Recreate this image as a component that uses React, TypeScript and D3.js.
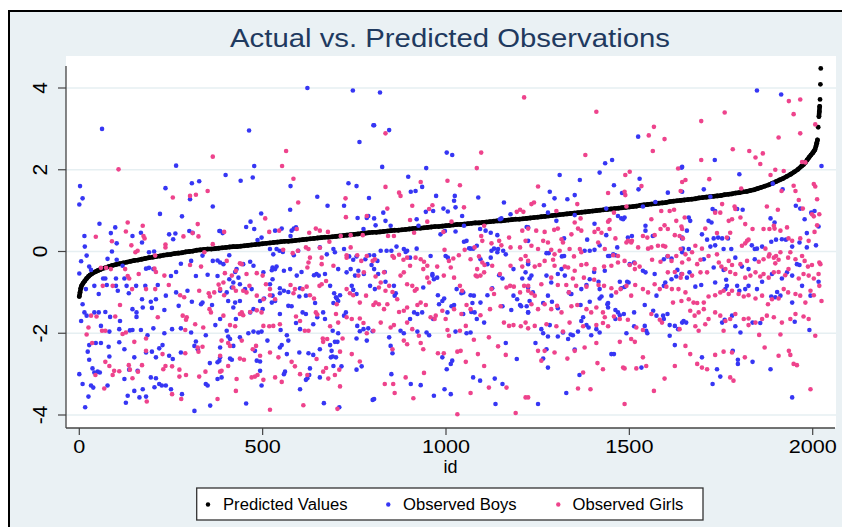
import React from 'react';
import * as d3 from 'd3';

const titleText = 'Actual vs. Predicted Observations';
const xLabel = 'id';
const xTicks = [0, 500, 1000, 1500, 2000];
const yTicks = [-4, -2, 0, 2, 4];
const legendLabels = ['Predicted Values', 'Observed Boys', 'Observed Girls'];

// [id, predicted value]
const predicted: [number, number][] = [
[0,-1.1],[2,-1.0],[4,-0.9],[6,-0.84],[10,-0.78],[15,-0.72],[20,-0.66],[25,-0.61],[30,-0.57],[35,-0.54],[40,-0.51],[45,-0.49],[50,-0.47],[55,-0.45],[60,-0.43],[70,-0.4],[80,-0.37],[90,-0.34],[100,-0.32],[110,-0.3],[120,-0.28],[130,-0.26],[140,-0.24],[150,-0.22],[160,-0.21],[170,-0.19],[180,-0.17],[190,-0.15],[200,-0.14],[210,-0.12],[220,-0.11],[230,-0.09],[240,-0.08],[250,-0.07],[260,-0.05],[270,-0.04],[280,-0.03],[290,-0.01],[300,0],[310,0.01],[320,0.03],[330,0.04],[340,0.05],[350,0.06],[360,0.06],[370,0.07],[380,0.08],
[390,0.09],[400,0.1],[410,0.11],[420,0.12],[430,0.12],[440,0.13],[450,0.14],[460,0.15],[470,0.16],[480,0.17],[490,0.18],[500,0.19],[510,0.2],[520,0.21],[530,0.22],[540,0.23],[550,0.24],[560,0.25],[570,0.25],[580,0.26],[590,0.27],[600,0.28],[610,0.29],[620,0.3],[630,0.31],[640,0.32],[650,0.33],[660,0.34],[670,0.35],[680,0.35],[690,0.36],[700,0.37],[710,0.38],[720,0.39],[730,0.4],[740,0.41],[750,0.42],[760,0.43],[770,0.44],[780,0.45],[790,0.46],[800,0.47],
[810,0.47],[820,0.48],[830,0.49],[840,0.5],[850,0.51],[860,0.52],[870,0.52],[880,0.53],[890,0.54],[900,0.55],[910,0.56],[920,0.57],[930,0.57],[940,0.58],[950,0.59],[960,0.6],[970,0.61],[980,0.61],[990,0.62],[1000,0.63],[1010,0.64],[1020,0.65],[1030,0.66],[1040,0.66],[1050,0.67],[1060,0.68],[1070,0.69],[1080,0.7],[1090,0.7],[1100,0.71],[1110,0.72],[1120,0.73],[1130,0.74],[1140,0.75],[1150,0.75],[1160,0.76],[1170,0.77],[1180,0.78],[1190,0.79],[1200,0.79],[1210,0.8],[1220,0.81],[1230,0.82],
[1240,0.83],[1250,0.84],[1260,0.85],[1270,0.86],[1280,0.87],[1290,0.88],[1300,0.89],[1310,0.9],[1320,0.91],[1330,0.92],[1340,0.93],[1350,0.94],[1360,0.95],[1370,0.96],[1380,0.97],[1390,0.98],[1400,0.99],[1410,1.0],[1420,1.01],[1430,1.02],[1440,1.03],[1450,1.04],[1460,1.05],[1470,1.06],[1480,1.07],[1490,1.08],[1500,1.09],[1510,1.1],[1520,1.11],[1530,1.13],[1540,1.14],[1550,1.15],[1560,1.16],[1570,1.17],[1580,1.18],[1590,1.19],[1600,1.2],[1610,1.22],[1620,1.23],[1630,1.24],[1640,1.25],[1650,1.26],
[1660,1.27],[1670,1.28],[1680,1.29],[1690,1.31],[1700,1.32],[1710,1.33],[1720,1.34],[1730,1.35],[1740,1.36],[1750,1.37],[1760,1.39],[1770,1.4],[1780,1.41],[1790,1.43],[1800,1.44],[1810,1.46],[1820,1.47],[1830,1.49],[1840,1.51],[1850,1.54],[1860,1.57],[1870,1.6],[1880,1.63],[1890,1.67],[1900,1.71],[1910,1.75],[1920,1.79],[1930,1.84],[1940,1.89],[1950,1.95],[1960,2.01],[1970,2.09],[1975,2.13],[1980,2.18],[1985,2.24],[1990,2.3],[1995,2.36],[2000,2.41],[2003,2.45],[2006,2.49],[2009,2.58],[2011,2.65],[2013,2.73],[2015,3.04],[2017,3.3],[2018,3.42],[2019,3.55],[2020,3.72],[2021,4.09],[2022,4.48]
];

// [id, observed value] for boys
const boys: [number, number][] = [
[62,3.0],[264,2.1],[2,1.6],[9,1.3],[0,1.15],[307,1.67],[327,1.72],[235,1.55],[302,1.28],[364,1.1],[280,0.86],[220,0.92],[55,0.68],[98,0.59],[86,0.45],[14,0.38],[15,0.12],[20,-0.1],[5,-0.24],[0,-0.54],[382,0.5],[300,0.5],[309,0.46],[245,0.42],[262,0.44],[256,0.3],[145,0.38],[171,0.22],[168,0.46],[102,0.2],[89,0],[204,0],[190,-0.02],[77,-0.18],[102,-0.2],[118,-0.35],[27,-0.37],[32,-0.45],[182,-0.42],[190,-0.4],[202,-0.43],[277,-0.3],[305,-0.23],[336,-0.1],[364,-0.23],[377,-0.22],[318,-0.6],[350,-0.57],[377,-0.6],[250,-0.6],[264,-0.5],[65,-0.66],[71,-0.66],[100,-0.66],[123,-0.66],[41,-0.84],[75,-0.82],[100,-0.84],[129,-0.84],[155,-0.84],[180,-0.84],[214,-0.82],[18,-0.92],[53,-1.04],[105,-0.96],[135,-1.02],[171,-1.17],[195,-1.23],[209,-1.17],[236,-1.08],[264,-1.0],[295,-0.96],[336,-1.25],[9,-1.29],[14,-1.49],[5,-1.7],[20,-1.57],[41,-1.49],[53,-1.49],[71,-1.48],[84,-1.6],[111,-1.7],[145,-1.41],[156,-1.49],[173,-1.37],[198,-1.38],[232,-1.43],[271,-1.33],[307,-1.23],[332,-1.29],[362,-1.31],[59,-1.82],[82,-1.96],[109,-1.9],[138,-1.93],[145,-1.92],[156,-1.6],[168,-1.92],[186,-2.05],[202,-1.88],[232,-2.0],[253,-1.9],[277,-1.88],[305,-1.98],[318,-2.2],[345,-2.05],[371,-1.8],[27,-2.29],[59,-2.24],[45,-2.24],[23,-2.45],[27,-2.65],[80,-2.33],[123,-2.39],[109,-2.22],[82,-2.57],[150,-2.59],[182,-2.47],[198,-2.45],[209,-2.59],[218,-2.37],[227,-2.29],[277,-2.47],[255,-2.63],[245,-2.55],[314,-2.31],[323,-2.39],[356,-2.73],[377,-2.71],[382,-2.67],[36,-2.86],[50,-2.94],[41,-2.96],[56,-2.96],[0,-3.0],[9,-3.24],[32,-3.28],[38,-3.33],[25,-3.55],[16,-3.81],[77,-3.28],[123,-3.12],[136,-2.89],[159,-2.92],[132,-3.53],[127,-3.7],[164,-3.57],[182,-3.55],[150,-3.41],[173,-3.37],[195,-3.08],[209,-3.1],[218,-3.24],[225,-3.28],[205,-3.32],[236,-3.28],[250,-3.37],[280,-3.49],[314,-3.9],[345,-3.24],[350,-3.28],[357,-3.77],[377,-3.12],[384,-2.59],
[622,4.0],[746,3.94],[802,3.09],[463,2.96],[764,2.68],[477,2.09],[399,1.87],[473,1.81],[440,1.73],[734,1.67],[756,1.6],[576,1.6],[649,1.34],[790,1.31],[677,1.12],[722,1.12],[575,1.02],[496,0.93],[467,0.73],[455,0.6],[477,0.55],[759,0.82],[784,0.82],[788,0.87],[552,0.56],[534,0.51],[585,0.56],[579,0.51],[591,0.59],[576,0.38],[497,0.34],[486,0.28],[775,0.55],[384,0.5],[391,0.45],[409,-0.09],[520,0.06],[529,-0.07],[538,0.06],[546,0.02],[597,0.02],[585,-0.09],[555,-0.01],[656,0.1],[675,-0.07],[693,0.06],[697,-0.02],[722,0.06],[736,-0.12],[747,-0.2],[756,-0.12],[780,-0.19],[791,-0.09],[384,-0.27],[393,-0.31],[429,-0.43],[425,-0.5],[447,-0.31],[466,-0.25],[475,-0.35],[502,-0.51],[527,-0.39],[525,-0.46],[534,-0.43],[538,-0.37],[558,-0.47],[575,-0.43],[593,-0.59],[606,-0.5],[640,-0.58],[647,-0.55],[653,-0.59],[670,-0.55],[706,-0.43],[729,-0.51],[740,-0.43],[752,-0.59],[761,-0.47],[776,-0.55],[804,-0.43],[797,-0.33],[409,-0.68],[434,-0.64],[420,-0.76],[470,-0.92],[452,-0.92],[438,-0.8],[520,-0.8],[527,-0.68],[547,-0.9],[547,-1.02],[558,-0.96],[570,-0.99],[602,-0.9],[618,-1.08],[600,-1.1],[684,-0.84],[695,-1.02],[702,-1.15],[711,-1.07],[743,-0.84],[747,-0.94],[756,-1.04],[793,-0.84],[806,-0.92],[384,-0.96],[402,-1.0],[416,-0.88],[406,-1.21],[425,-1.25],[438,-1.21],[420,-1.37],[427,-1.65],[443,-1.53],[466,-1.49],[475,-1.41],[493,-1.21],[504,-1.15],[500,-1.41],[525,-1.25],[534,-1.21],[527,-1.08],[547,-1.53],[570,-1.33],[579,-1.34],[609,-1.49],[618,-1.53],[643,-1.26],[649,-1.61],[665,-1.49],[670,-1.65],[693,-1.26],[700,-1.12],[706,-1.21],[722,-1.57],[727,-1.49],[758,-1.82],[765,-1.95],[775,-1.9],[788,-1.88],[800,-1.95],[384,-1.65],[402,-1.94],[406,-2.08],[411,-2.14],[438,-2.1],[461,-2.0],[475,-1.96],[488,-1.98],[497,-1.96],[549,-1.92],[566,-2.05],[570,-2.18],[591,-1.75],[602,-1.9],[638,-1.78],[691,-1.94],[706,-2.0],[697,-2.21],[784,-2.18],[756,-2.13],[479,-2.43],[484,-2.67],[493,-2.69],[513,-2.18],[547,-2.35],[552,-2.29],[566,-2.51],[600,-2.47],[625,-2.49],[638,-2.53],[656,-2.39],[684,-2.29],[688,-2.43],[691,-2.57],[704,-2.21],[384,-2.35],[420,-2.31],[388,-3.08],[411,-2.62],[416,-2.65],[493,-2.92],[497,-3.28],[561,-2.94],[558,-3.0],[629,-2.86],[627,-3.02],[622,-3.1],[618,-3.14],[656,-3.08],[693,-2.8],[700,-2.59],[715,-2.81],[686,-2.59],[756,-2.89],[770,-2.81],[602,-3.37],[455,-3.72],[667,-3.71],[709,-3.81],[800,-3.63],
[820,3.89],[804,3.09],[845,2.97],[1002,2.42],[1017,2.36],[826,2.07],[946,2.04],[897,1.83],[904,1.46],[917,1.48],[935,1.58],[973,1.36],[1088,1.32],[1158,1.2],[1024,1.36],[1022,1.24],[1026,1.08],[945,0.97],[965,0.99],[993,1.05],[1005,0.98],[1044,0.87],[804,0.81],[808,0.64],[829,0.95],[835,0.75],[849,0.63],[920,0.79],[925,0.63],[985,0.42],[997,0.5],[1026,0.49],[1049,0.63],[1093,0.55],[1108,0.51],[1122,0.46],[1140,0.4],[1147,0.79],[1151,0.81],[1176,0.91],[1220,0.6],[822,0.02],[838,0.02],[851,0.02],[865,0.12],[885,0.06],[894,0.02],[920,0.07],[1049,0.24],[1063,0.08],[1074,0.07],[1084,0.14],[1124,0.02],[1131,0.07],[1140,-0.02],[1156,0.02],[1224,-0.27],[804,-0.09],[813,-0.23],[815,-0.55],[833,-0.5],[890,-0.01],[902,-0.15],[958,-0.11],[963,-0.55],[976,-0.64],[999,-0.11],[1005,-0.15],[1056,0.26],[1067,0.07],[1094,-0.19],[1113,-0.31],[1122,-0.15],[1142,0.06],[1163,-0.07],[1184,-0.43],[1217,-0.51],[1208,-0.66],[835,-0.74],[858,-0.84],[863,-1.02],[860,-1.08],[938,-0.88],[963,-0.59],[967,-0.68],[978,-1.07],[981,-1.29],[990,-1.21],[995,-1.15],[1022,-1.31],[1029,-0.92],[1042,-1.02],[1047,-1.0],[1067,-1.07],[1076,-1.08],[1072,-1.26],[1094,-1.25],[1113,-1.07],[1126,-0.9],[1145,-0.58],[1154,-0.66],[1184,-1.08],[1194,-1.17],[1202,-1.31],[1205,-1.34],[1224,-1.49],[1220,-1.34],[902,-1.65],[913,-1.49],[922,-1.53],[935,-1.49],[965,-1.65],[1004,-1.49],[1015,-1.34],[1047,-1.53],[1069,-1.48],[1078,-1.49],[1084,-1.65],[1104,-1.74],[1154,-1.34],[1178,-1.43],[845,-2.1],[849,-2.31],[854,-2.49],[876,-1.94],[885,-2.0],[922,-1.96],[947,-1.98],[954,-2.05],[1026,-1.96],[1056,-2.0],[1067,-1.98],[1163,-2.24],[1193,-2.63],[990,-2.59],[1002,-2.88],[1017,-2.67],[1013,-2.75],[1074,-3.08],[1093,-3.16],[1133,-3.11],[1154,-3.24],[851,-3.0],[904,-3.24],[931,-3.27],[967,-3.53],[996,-3.37],[1013,-3.49],[1135,-3.73],[804,-3.61],
[1524,2.81],[1434,2.16],[1453,2.24],[1419,1.93],[1310,1.87],[1365,1.75],[1528,1.78],[1458,1.62],[1480,1.43],[1525,1.52],[1642,2.05],[1283,1.46],[1296,1.3],[1267,1.13],[1331,1.28],[1351,1.38],[1605,1.44],[1571,1.21],[1537,1.1],[1437,1.05],[1278,0.95],[1301,0.75],[1351,0.89],[1405,0.68],[1437,0.4],[1469,0.87],[1483,0.79],[1487,0.83],[1478,0.81],[1544,0.63],[1544,0.51],[1564,0.38],[1496,0.34],[1507,0.38],[1644,0.34],[1224,0.59],[1224,0.26],[1322,0.32],[1385,0.29],[1467,0.1],[1274,-0.04],[1280,-0.04],[1316,-0.12],[1322,-0.11],[1378,0.02],[1392,0.02],[1405,0.04],[1419,0.15],[1442,-0.11],[1462,-0.09],[1456,-0.07],[1501,-0.31],[1513,-0.27],[1537,-0.47],[1544,-0.51],[1569,-0.55],[1594,-0.19],[1604,-0.12],[1615,-0.17],[1631,-0.45],[1642,-0.55],[1646,0.07],[1224,-0.31],[1233,-0.59],[1228,-0.66],[1224,-0.88],[1274,-0.59],[1287,-0.76],[1305,-0.55],[1315,-0.43],[1324,-0.59],[1342,-1.04],[1369,-0.92],[1383,-0.82],[1392,-0.68],[1404,-0.5],[1416,-0.74],[1419,-0.92],[1433,-0.47],[1446,-0.11],[1451,-1.08],[1474,-0.74],[1494,-0.74],[1498,-0.76],[1478,-0.9],[1487,-0.87],[1574,-1.08],[1594,-0.84],[1598,-0.76],[1615,-0.68],[1628,-0.61],[1228,-1.21],[1237,-1.0],[1265,-1.26],[1278,-1.08],[1289,-1.23],[1305,-1.39],[1340,-1.04],[1335,-1.0],[1367,-1.31],[1392,-1.23],[1419,-1.15],[1424,-1.1],[1442,-1.26],[1462,-1.43],[1469,-1.49],[1485,-1.53],[1513,-1.49],[1542,-1.31],[1565,-1.45],[1574,-1.57],[1594,-1.65],[1604,-1.53],[1610,-1.8],[1224,-1.49],[1260,-1.9],[1265,-2.0],[1283,-1.8],[1319,-1.98],[1346,-2.05],[1360,-1.96],[1369,-1.7],[1374,-1.61],[1383,-1.8],[1389,-1.86],[1396,-2.05],[1410,-1.9],[1419,-1.98],[1440,-1.29],[1442,-1.37],[1462,-1.65],[1474,-1.56],[1492,-2.0],[1513,-1.83],[1542,-1.82],[1546,-1.94],[1549,-2.0],[1592,-1.57],[1610,-2.06],[1624,-1.82],[1633,-1.9],[1244,-2.24],[1274,-2.39],[1278,-2.08],[1265,-2.62],[1278,-2.84],[1305,-2.08],[1333,-2.14],[1340,-2.03],[1351,-2.4],[1451,-2.51],[1458,-2.51],[1533,-2.84],[1364,-3.02],[1328,-3.46],[1624,-2.29],[1644,-1.74],[1251,-3.73],
[1848,3.94],[1914,3.84],[1733,2.24],[2024,2.09],[1800,1.89],[1891,1.66],[1918,1.52],[1703,1.52],[1721,1.34],[1644,2.07],[1644,1.46],[1727,1.04],[1734,0.99],[1716,0.75],[1724,0.71],[1794,1.04],[1809,1.02],[1662,0.83],[1666,0.75],[1657,0.51],[1885,0.81],[1896,0.71],[1954,1.12],[1966,1.05],[1996,0.95],[2005,0.99],[1978,0.79],[1984,0.45],[2009,0.15],[2016,0.61],[1698,0.42],[1712,0.29],[1730,0.32],[1742,0.34],[1753,0.32],[1769,0.32],[1721,0.12],[1734,0.15],[1757,0.06],[1778,0.06],[1834,0.15],[1842,0.06],[1862,0.12],[1848,0.07],[1887,0.24],[1900,0.29],[1916,0.3],[1927,0.29],[1964,0.22],[1984,0.1],[1944,0.12],[1644,0.32],[1662,0.06],[1644,-0.02],[1703,-0.19],[1730,-0.39],[1757,-0.45],[1789,-0.15],[1807,-0.37],[1825,-0.43],[1842,-0.19],[1889,-0.55],[1916,-0.66],[1930,-0.51],[1944,-0.59],[1957,-0.31],[1964,-0.33],[2016,-0.74],[1657,-0.64],[1664,-0.51],[1680,-0.86],[1696,-0.82],[1734,-0.76],[1764,-0.69],[1766,-0.84],[1762,-0.92],[1794,-0.84],[1800,-0.96],[1816,-0.92],[1825,-0.84],[1848,-0.92],[1862,-0.74],[1887,-1.1],[1898,-1.12],[1903,-0.99],[1912,-1.08],[1944,-1.25],[1951,-1.72],[1971,-0.84],[1994,-1.08],[1648,-1.7],[1655,-1.74],[1753,-1.74],[1760,-1.67],[1780,-1.57],[1789,-1.83],[1803,-1.98],[1836,-1.74],[1857,-1.75],[1991,-1.92],[1698,-2.59],[1739,-2.88],[1748,-3.06],[1782,-2.43],[1796,-2.65],[1796,-2.75],[1836,-2.7],[1885,-2.88],[1727,-3.24],[1944,-3.57]
];

// [id, observed value] for girls
const girls: [number, number][] = [
[364,2.32],[107,2.01],[255,1.32],[302,1.36],[318,1.39],[350,1.48],[45,0.36],[132,0.71],[127,0.49],[173,0.63],[175,0.38],[178,0.32],[89,0.25],[142,0.15],[159,0.02],[153,-0.02],[284,0.37],[309,0.45],[325,0.37],[323,0.67],[235,0.17],[235,0.1],[207,-0.1],[302,-0.33],[332,-0.37],[341,-0.02],[364,0.18],[59,-0.4],[73,-0.4],[86,-0.43],[125,-0.43],[132,-0.6],[136,-0.66],[162,-0.55],[209,-0.5],[205,-0.42],[232,-0.59],[244,-0.82],[380,-0.81],[368,-1.0],[356,-1.1],[64,-0.84],[91,-0.84],[144,-0.92],[182,-0.92],[207,-0.92],[275,-1.07],[286,-1.12],[327,-0.96],[353,-1.02],[111,-1.31],[98,-1.59],[32,-1.57],[47,-1.59],[359,-1.49],[355,-1.41],[282,-1.57],[293,-1.61],[291,-1.67],[214,-1.61],[316,-1.78],[338,-1.86],[25,-1.86],[20,-2.03],[62,-1.94],[71,-1.94],[118,-2.02],[127,-1.98],[150,-2.21],[182,-2.13],[289,-1.92],[323,-2.35],[336,-2.33],[325,-2.45],[35,-2.24],[182,-2.43],[227,-2.51],[235,-2.8],[253,-2.81],[229,-2.88],[273,-2.89],[289,-2.49],[135,-2.78],[138,-2.89],[145,-3.1],[171,-2.78],[160,-2.94],[95,-2.92],[109,-2.93],[91,-3.02],[71,-2.7],[82,-2.8],[44,-3.02],[68,-3.35],[291,-3.02],[273,-3.06],[327,-3.06],[344,-2.94],[253,-3.49],[278,-3.61],[184,-3.67],[377,-3.61],[384,-2.94],
[564,2.46],[553,2.09],[584,1.78],[597,1.2],[726,1.3],[727,0.84],[784,0.87],[507,0.81],[395,0.48],[518,0.48],[545,0.51],[593,0.55],[627,0.46],[645,0.56],[656,0.51],[678,0.48],[713,0.38],[740,0.4],[773,0.4],[556,0.04],[582,-0.04],[596,0.02],[618,0.1],[625,0.06],[656,0.09],[682,0.24],[740,0.1],[729,-0.09],[784,-0.11],[800,-0.23],[806,-0.19],[402,-0.23],[438,-0.29],[443,-0.31],[629,-0.15],[625,-0.27],[622,-0.39],[661,-0.15],[661,-0.31],[693,-0.35],[729,-0.15],[758,-0.09],[769,-0.23],[776,-0.51],[761,-0.59],[397,-0.53],[416,-0.59],[427,-0.47],[456,-0.55],[484,-0.53],[500,-0.59],[464,-0.84],[509,-0.8],[520,-0.92],[393,-0.76],[384,-0.92],[395,-1.07],[420,-0.88],[427,-0.96],[447,-0.96],[456,-1.0],[484,-1.08],[502,-1.17],[520,-1.07],[534,-1.17],[576,-0.82],[584,-1.02],[588,-0.92],[609,-0.92],[620,-0.86],[629,-1.07],[640,-1.15],[655,-0.84],[661,-0.8],[673,-0.72],[702,-1.29],[729,-0.92],[738,-1.02],[747,-1.07],[765,-1.25],[782,-1.08],[802,-1.31],[393,-1.57],[411,-1.8],[425,-1.83],[438,-1.53],[447,-1.56],[443,-1.49],[466,-1.48],[484,-1.44],[497,-1.49],[502,-1.82],[518,-1.83],[529,-1.82],[547,-1.78],[591,-1.59],[602,-1.7],[615,-1.94],[625,-1.94],[645,-1.49],[649,-1.54],[684,-1.83],[700,-1.53],[706,-1.74],[729,-1.61],[743,-1.65],[765,-1.64],[775,-1.75],[784,-2.0],[802,-1.94],[388,-2.18],[406,-2.24],[411,-2.31],[443,-2.18],[482,-2.31],[473,-2.39],[493,-2.55],[520,-2.47],[543,-2.59],[664,-2.13],[676,-2.14],[665,-2.21],[711,-2.45],[718,-2.13],[743,-2.51],[765,-2.69],[384,-2.55],[388,-2.92],[406,-2.8],[438,-2.62],[449,-2.65],[470,-3.08],[479,-3.06],[486,-3.02],[502,-3.14],[534,-3.08],[552,-3.19],[579,-2.7],[588,-2.81],[602,-3.0],[622,-3.02],[647,-2.63],[673,-2.85],[679,-3.11],[697,-3.02],[665,-2.94],[709,-2.89],[711,-3.3],[429,-3.12],[427,-3.41],[520,-3.87],[611,-3.76],[704,-3.85],
[1213,3.77],[835,2.89],[1096,2.42],[1084,2.04],[835,1.58],[931,1.7],[872,1.44],[876,1.36],[1004,1.73],[1038,1.62],[908,1.12],[963,1.13],[1049,1.08],[840,1.05],[902,0.77],[913,0.46],[954,1.04],[949,0.73],[1015,0.73],[993,0.48],[842,0.38],[858,0.38],[1193,0.97],[1202,1.02],[1211,0.97],[1208,0.51],[1217,0.26],[1104,0.63],[1096,0.38],[1099,0.26],[1078,0.1],[1124,0.2],[1145,0.26],[1151,0.15],[1172,0.34],[1176,0.1],[1202,0.1],[1217,-0.11],[996,0.04],[1008,-0.23],[1020,-0.17],[1035,-0.09],[1051,0.04],[1067,-0.19],[1090,-0.12],[1099,-0.27],[1105,-0.33],[1085,-0.43],[1081,-0.59],[1126,-0.35],[1147,-0.55],[1176,-0.35],[1204,-0.19],[1208,-0.37],[854,-0.11],[858,-0.15],[872,-0.08],[884,-0.2],[894,-0.15],[917,-0.15],[931,-0.19],[940,-0.25],[949,-0.35],[938,-0.43],[902,-0.35],[885,-0.51],[876,-0.59],[831,-0.51],[808,-0.61],[822,-0.76],[817,-0.88],[835,-0.96],[845,-0.84],[854,-0.99],[894,-0.8],[908,-0.84],[915,-0.96],[920,-0.92],[949,-0.64],[954,-0.76],[976,-0.37],[994,-0.59],[1013,-0.39],[1022,-0.64],[1038,-0.84],[1044,-0.96],[1085,-0.61],[1094,-0.59],[1104,-0.51],[1124,-0.92],[1131,-1.04],[1165,-0.88],[1175,-0.84],[1185,-0.86],[1202,-1.0],[1213,-0.84],[1224,-0.96],[808,-1.25],[817,-1.29],[831,-1.41],[840,-1.29],[867,-1.17],[872,-1.48],[885,-1.45],[894,-1.37],[922,-1.31],[931,-1.25],[945,-1.31],[958,-1.61],[969,-1.65],[972,-1.57],[990,-1.45],[999,-1.65],[1022,-1.41],[1042,-1.53],[1056,-1.31],[1067,-1.41],[1094,-1.56],[1120,-1.41],[1149,-1.34],[1158,-1.74],[1172,-1.82],[1184,-1.8],[1204,-1.83],[1217,-1.74],[1224,-1.88],[822,-1.74],[849,-1.86],[858,-1.8],[894,-1.74],[908,-1.9],[926,-2.06],[1004,-1.92],[1008,-2.06],[1038,-1.94],[1054,-1.82],[1076,-2.16],[1117,-2.1],[1142,-2.32],[1163,-2.53],[854,-2.39],[885,-2.18],[894,-2.27],[931,-2.24],[938,-2.39],[978,-2.49],[994,-2.49],[1031,-2.45],[1040,-2.43],[1054,-2.7],[1087,-2.51],[1104,-2.8],[940,-2.97],[890,-3.08],[833,-3.24],[856,-3.24],[860,-3.46],[911,-3.59],[1067,-3.46],[1117,-3.33],[1165,-3.33],[1031,-3.98],[1190,-3.95],[1217,-3.57],
[1410,3.42],[1567,3.05],[1553,2.84],[1596,2.75],[1564,2.46],[1380,2.36],[1489,1.87],[1501,1.95],[1533,1.6],[1442,1.43],[1633,2.03],[1640,1.48],[1644,1.7],[1251,1.59],[1233,1.16],[1240,1.2],[1358,1.16],[1487,1.46],[1489,1.38],[1301,0.99],[1351,0.71],[1367,0.81],[1442,0.73],[1446,0.77],[1492,1.1],[1458,0.95],[1560,0.79],[1587,0.99],[1610,0.99],[1622,1.02],[1628,0.75],[1642,0.61],[1224,0.56],[1246,0.51],[1269,0.48],[1295,0.53],[1305,0.56],[1315,0.3],[1342,0.42],[1360,0.56],[1369,0.51],[1405,0.48],[1415,0.55],[1424,0.46],[1446,0.55],[1462,0.32],[1496,0.26],[1507,0.26],[1537,0.38],[1549,0.34],[1569,0.4],[1585,0.55],[1596,0.64],[1605,0.55],[1624,0.4],[1637,0.38],[1233,0.14],[1251,0.06],[1265,0.26],[1278,0.22],[1287,0.04],[1296,-0.07],[1310,0.02],[1319,0.22],[1337,0.06],[1349,-0.12],[1365,0.06],[1369,-0.02],[1415,0.22],[1433,0.06],[1456,-0.09],[1469,-0.11],[1492,0.22],[1505,0.22],[1524,0.1],[1551,0.07],[1560,0.1],[1578,0.14],[1592,0.14],[1598,0.12],[1605,-0.11],[1615,-0.23],[1628,-0.11],[1640,0.06],[1224,-0.23],[1242,-0.37],[1255,-0.33],[1269,-0.23],[1292,-0.2],[1296,-0.35],[1324,-0.37],[1333,-0.39],[1351,-0.47],[1369,-0.33],[1383,-0.31],[1405,-0.43],[1431,-0.37],[1451,-0.35],[1469,-0.27],[1487,-0.23],[1501,-0.33],[1515,-0.29],[1515,-0.43],[1528,-0.37],[1562,-0.2],[1585,-0.25],[1605,-0.51],[1624,-0.5],[1640,-0.64],[1224,-0.84],[1233,-1.02],[1242,-1.08],[1260,-0.8],[1287,-0.64],[1305,-0.82],[1328,-0.82],[1335,-1.0],[1346,-0.66],[1355,-0.84],[1376,-0.64],[1383,-0.86],[1404,-0.69],[1416,-0.82],[1431,-0.84],[1451,-0.9],[1464,-1.0],[1476,-0.92],[1492,-0.84],[1505,-1.08],[1516,-0.82],[1537,-0.92],[1551,-1.0],[1569,-0.8],[1583,-0.92],[1601,-0.86],[1616,-0.92],[1634,-0.92],[1642,-1.21],[1619,-1.25],[1233,-1.29],[1251,-1.41],[1269,-1.29],[1287,-1.41],[1303,-1.33],[1315,-1.49],[1342,-1.34],[1358,-1.31],[1383,-1.41],[1396,-1.49],[1410,-1.37],[1428,-1.49],[1433,-1.61],[1458,-1.59],[1474,-1.65],[1496,-1.67],[1519,-1.86],[1537,-1.92],[1560,-1.53],[1583,-1.67],[1589,-1.74],[1242,-1.82],[1274,-1.78],[1301,-1.83],[1319,-1.96],[1337,-1.74],[1374,-1.83],[1410,-1.8],[1428,-1.75],[1442,-1.83],[1474,-2.21],[1505,-2.14],[1515,-2.21],[1637,-1.9],[1251,-2.43],[1269,-2.43],[1296,-2.47],[1331,-2.62],[1351,-2.43],[1410,-2.24],[1378,-2.35],[1260,-2.67],[1428,-2.88],[1413,-2.73],[1483,-2.84],[1487,-2.86],[1519,-2.86],[1546,-2.8],[1537,-2.59],[1624,-2.8],[1596,-3.11],[1224,-3.57],[1374,-2.96],[1394,-3.37],[1360,-3.35],[1487,-3.73],[1567,-3.41],
[1966,3.72],[1935,3.68],[1760,3.4],[1696,3.19],[1948,3.36],[1966,2.89],[1907,2.79],[1782,2.5],[1827,2.46],[1864,2.4],[1844,2.3],[1857,2.14],[1696,2.24],[2007,3.11],[1653,1.75],[1718,1.77],[1805,1.54],[1885,1.87],[1898,2.0],[1921,1.97],[1971,2.19],[1980,2.18],[1915,1.48],[1948,1.61],[2003,1.65],[2007,1.59],[2012,1.28],[1953,1.48],[1962,1.26],[1973,1.05],[1998,0.91],[2003,0.86],[2012,0.64],[2005,0.48],[2018,0.91],[1734,0.95],[1748,0.95],[1753,1.16],[1787,1.1],[1789,1.04],[1803,0.83],[1780,0.79],[1771,0.75],[1651,0.83],[1644,0.55],[1646,0.32],[1875,1.1],[1905,1.02],[1894,0.63],[1896,0.56],[1930,0.59],[1912,0.51],[1816,0.67],[1836,0.55],[1866,0.55],[1882,0.55],[1707,0.56],[1739,0.45],[1775,0.46],[1766,0.34],[1934,0.32],[1944,0.26],[1966,0.32],[1989,0.26],[1680,0.14],[1698,0.07],[1653,-0.07],[1671,-0.02],[1739,-0.07],[1807,0.14],[1816,0.2],[1821,0.26],[1825,0.29],[1871,0.07],[1882,-0.07],[1894,-0.15],[1900,-0.11],[1912,-0.02],[1933,-0.15],[1939,-0.02],[1953,-0.19],[1971,-0.11],[1978,-0.23],[1987,-0.37],[1998,-0.33],[2018,-0.27],[1644,-0.27],[1662,-0.19],[1685,-0.31],[1694,-0.2],[1716,-0.11],[1744,-0.27],[1771,-0.23],[1780,-0.33],[1803,-0.31],[1821,-0.23],[1853,-0.25],[1866,-0.19],[1880,-0.12],[1898,-0.29],[1907,-0.2],[1644,-0.55],[1671,-0.59],[1694,-0.51],[1712,-0.51],[1751,-0.37],[1762,-0.43],[1775,-0.5],[1789,-0.55],[1816,-0.64],[1830,-0.59],[1844,-0.51],[1857,-0.61],[1866,-0.55],[1880,-0.64],[1894,-0.51],[1907,-0.5],[1925,-0.58],[1934,-0.43],[1962,-0.66],[1975,-0.55],[1989,-0.59],[2003,-0.66],[2016,-0.55],[2021,-0.31],[1653,-1.0],[1662,-1.17],[1675,-1.25],[1685,-1.26],[1703,-1.25],[1716,-1.1],[1734,-1.07],[1748,-1.0],[1757,-0.96],[1771,-1.04],[1780,-0.96],[1798,-1.04],[1812,-1.1],[1825,-1.07],[1844,-1.15],[1862,-1.08],[1878,-1.29],[1889,-1.17],[1907,-1.15],[1921,-0.92],[1933,-1.0],[1953,-1.04],[1966,-1.08],[1980,-1.25],[1994,-0.96],[2003,-1.07],[2018,-0.84],[2024,-1.21],[1666,-1.45],[1678,-1.57],[1689,-1.49],[1703,-1.41],[1716,-1.65],[1734,-1.49],[1748,-1.57],[1762,-1.7],[1775,-1.65],[1789,-1.53],[1812,-1.65],[1825,-1.64],[1844,-1.74],[1862,-1.65],[1875,-1.57],[1894,-1.61],[1916,-1.74],[1939,-1.65],[1953,-1.53],[1975,-1.59],[1989,-1.65],[1680,-1.83],[1689,-1.94],[1707,-1.78],[1757,-1.94],[1825,-1.8],[1912,-2.03],[2007,-2.06],[1653,-2.31],[1666,-2.51],[1685,-2.75],[1698,-2.84],[1712,-2.88],[1734,-2.53],[1757,-2.45],[1780,-2.47],[1815,-2.59],[1854,-2.04],[1869,-2.35],[1907,-2.55],[1935,-2.43],[1939,-2.53],[1948,-2.75],[1957,-2.78],[1775,-3.08],[1784,-3.16],[1994,-3.37]
];

const FONT = '"Liberation Sans", Arial, Helvetica, sans-serif';
const W = 842;
const H = 527;
const plot = { left: 66, right: 836, top: 56, bottom: 428 };
const COLORS = { pred: '#000000', boys: '#3636F4', girls: '#EE438C', bg: '#EAF1F4', grid: '#E6EFF2', title: '#1F3A5F' };

export default function App() {
  const x = d3.scaleLinear().domain([0, 2000]).range([79.3, 812.7]);
  const y = d3.scaleLinear().domain([-4, 4]).range([415, 88]);

  // contiguous runs of predicted dots (dots that touch each other)
  const runs: [number, number][][] = [];
  let cur: [number, number][] = [];
  predicted.forEach((d, i) => {
    if (i > 0) {
      const p = predicted[i - 1];
      const dist = Math.hypot(x(d[0]) - x(p[0]), y(d[1]) - y(p[1]));
      if (dist > 6) { runs.push(cur); cur = []; }
    }
    cur.push(d);
  });
  runs.push(cur);
  const lineGen = d3.line<[number, number]>().x((d) => x(d[0])).y((d) => y(d[1]));

  const legendItems = [
    { label: legendLabels[0], color: COLORS.pred, dotX: 208, textX: 223 },
    { label: legendLabels[1], color: COLORS.boys, dotX: 388.3, textX: 403 },
    { label: legendLabels[2], color: COLORS.girls, dotX: 558.3, textX: 572.5 },
  ];

  return (
    <svg width={W} height={H} style={{ position: 'absolute', left: 0, top: 0, display: 'block' }} fontFamily={FONT}>
      <rect x={0} y={0} width={W} height={H} fill="#ffffff" />
      <rect x={9} y={11} width={W + 10} height={H + 10} fill={COLORS.bg} stroke="#000" strokeWidth={2} />
      <text transform={`translate(450,46.5) scale(1.15,1)`} textAnchor="middle" fontSize={25.5} fill={COLORS.title}>{titleText}</text>
      <rect x={plot.left} y={plot.top} width={plot.right - plot.left} height={plot.bottom - plot.top} fill="#ffffff" />
      {yTicks.map((t) => (
        <line key={'g' + t} x1={plot.left} x2={plot.right} y1={y(t)} y2={y(t)} stroke={COLORS.grid} strokeWidth={1.5} />
      ))}
      {runs.filter((r) => r.length > 1).map((r, i) => (
        <path key={'run' + i} d={lineGen(r) || ''} fill="none" stroke={COLORS.pred} strokeWidth={4.6} strokeLinecap="round" strokeLinejoin="round" />
      ))}
      {predicted.map((d, i) => (
        <circle key={'p' + i} cx={x(d[0])} cy={y(d[1])} r={2.4} fill={COLORS.pred} />
      ))}
      {boys.map((d, i) => (
        <circle key={'b' + i} cx={x(d[0])} cy={y(d[1])} r={2.3} fill={COLORS.boys} />
      ))}
      {girls.map((d, i) => (
        <circle key={'w' + i} cx={x(d[0])} cy={y(d[1])} r={2.3} fill={COLORS.girls} />
      ))}
      <line x1={plot.left} x2={plot.left} y1={66} y2={plot.bottom} stroke="#444" strokeWidth={1.3} />
      <line x1={plot.left} x2={plot.right - 1} y1={plot.bottom} y2={plot.bottom} stroke="#444" strokeWidth={1.3} />
      {yTicks.map((t) => (
        <g key={'yt' + t}>
          <line x1={58} x2={plot.left} y1={y(t)} y2={y(t)} stroke="#444" strokeWidth={1.2} />
          <text transform={`translate(46.5,${y(t)}) rotate(-90)`} textAnchor="middle" fontSize={21} fill="#000">{t}</text>
        </g>
      ))}
      {xTicks.map((t) => (
        <g key={'xt' + t}>
          <line x1={x(t)} x2={x(t)} y1={plot.bottom} y2={435} stroke="#444" strokeWidth={1.2} />
          <text transform={`translate(${x(t)},452.5) scale(1.17,1)`} textAnchor="middle" fontSize={18.5} fill="#000">{t}</text>
        </g>
      ))}
      <text x={450.5} y={473} textAnchor="middle" fontSize={18} fill="#000">{xLabel}</text>
      <rect x={196.7} y={488} width={506.3} height={32} fill="#ffffff" stroke="#333" strokeWidth={1.3} />
      {legendItems.map((it) => (
        <g key={it.label}>
          <circle cx={it.dotX} cy={504.5} r={2.2} fill={it.color} />
          <text transform={`translate(${it.textX},510) scale(1.04,1)`} fontSize={16} fill="#000">{it.label}</text>
        </g>
      ))}
    </svg>
  );
}
